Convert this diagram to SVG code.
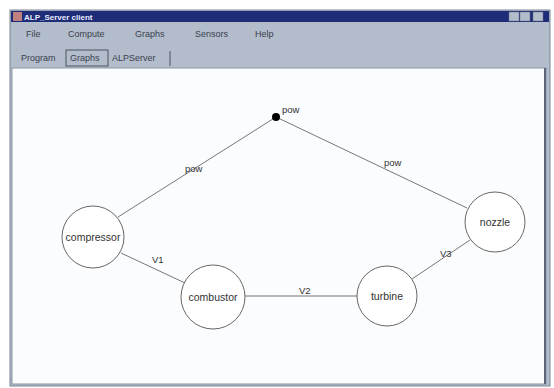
<svg xmlns="http://www.w3.org/2000/svg" width="554" height="388" viewBox="0 0 554 388">
<style>
.ui{font-family:"Liberation Sans",Arial,sans-serif;font-size:9px;fill:#3a4150}
.lbl{font-family:"Liberation Sans",Arial,sans-serif;font-size:9.5px;fill:#333}
.nl{font-family:"Liberation Sans",Arial,sans-serif;font-size:10.5px;fill:#333}
.node circle{fill:#fff;stroke:#666;stroke-width:1}
.edge{stroke:#777;stroke-width:1;fill:none}
</style>
<rect x="0" y="0" width="554" height="388" fill="#ffffff"/>
<!-- window -->
<rect x="10" y="10" width="540" height="376" fill="#b3bccb" stroke="#7a8495"/>
<rect x="11" y="11" width="538" height="11" fill="#1f2c78"/>
<rect x="13" y="12" width="9" height="9" fill="#c08080"/>
<text x="24" y="20" font-family="Liberation Sans,Arial,sans-serif" font-size="8" font-weight="bold" fill="#e8ecff">ALP_Server client</text>
<g fill="#b3bccb" stroke="#6d7585" stroke-width="0.5">
<rect x="509" y="12" width="10" height="9"/><rect x="520" y="12" width="10" height="9"/><rect x="533" y="12" width="10" height="9"/>
</g>
<g class="ui">
<text x="26" y="37">File</text>
<text x="68" y="37">Compute</text>
<text x="135" y="37">Graphs</text>
<text x="195" y="37">Sensors</text>
<text x="255" y="37">Help</text>
</g>
<g class="ui">
<text x="21" y="61">Program</text>
<rect x="66" y="50" width="42" height="16" fill="#b3bccb" stroke="#4a5263" stroke-width="1"/>
<text x="70" y="61">Graphs</text>
<text x="112" y="61">ALPServer</text>
<line x1="170" y1="51" x2="170" y2="66" stroke="#4a5263"/>
</g>
<rect x="12" y="68" width="534" height="316" fill="#fbfcfd" stroke="#8c95a5"/>
<line x1="545" y1="68" x2="545" y2="384" stroke="#5e6779" stroke-width="2"/>
<!-- connectors -->
<g id="connectors">
<line class="edge" x1="118" y1="217" x2="276" y2="117"/>
<line class="edge" x1="276" y1="117" x2="467" y2="208"/>
<line class="edge" x1="121" y1="253" x2="185" y2="283"/>
<line class="edge" x1="245" y1="296" x2="357" y2="296"/>
<line class="edge" x1="412" y1="279" x2="470" y2="240"/>
<text class="lbl" x="185" y="172">pow</text>
<text class="lbl" x="384" y="166">pow</text>
<text class="lbl" x="152" y="263">V1</text>
<text class="lbl" x="299" y="294">V2</text>
<text class="lbl" x="440" y="257">V3</text>
</g>
<g id="junction"><circle cx="276" cy="117" r="4" fill="#000"/><text class="lbl" x="282" y="113">pow</text></g>
<g id="compressor" class="node"><circle cx="93" cy="237" r="31"/><text class="nl" x="93" y="241" text-anchor="middle">compressor</text></g>
<g id="combustor" class="node"><circle cx="213" cy="297" r="32"/><text class="nl" x="213" y="301" text-anchor="middle">combustor</text></g>
<g id="turbine" class="node"><circle cx="387" cy="296" r="30"/><text class="nl" x="387" y="300" text-anchor="middle">turbine</text></g>
<g id="nozzle" class="node"><circle cx="495" cy="222" r="30"/><text class="nl" x="495" y="226" text-anchor="middle">nozzle</text></g>
</svg>
